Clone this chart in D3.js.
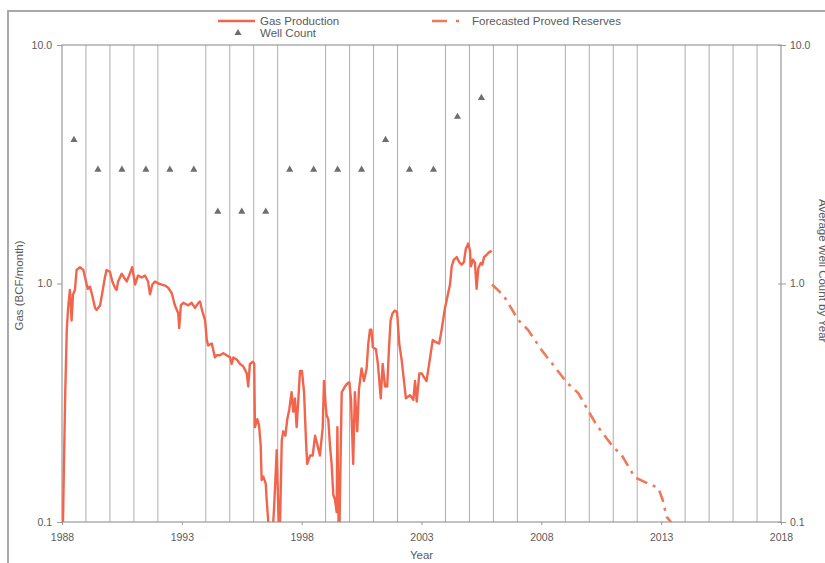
<!DOCTYPE html>
<html>
<head>
<meta charset="utf-8">
<script src="https://cdn.jsdelivr.net/npm/d3@7"></script>
<style>
  html, body { margin: 0; padding: 0; background: #fff; }
  svg { display: block; font-family: "Liberation Sans", Arial, sans-serif; }
</style>
</head>
<body>
<svg id="chart" width="825" height="563"></svg>
<script>
// Monthly gas production (BCF/month), decimal year
const prodYears = [
  1988.04,1988.13,1988.20,1988.25,1988.33,1988.40,1988.46,1988.54,1988.61,1988.75,1988.89,
  1989.03,1989.08,1989.17,1989.24,1989.38,1989.45,1989.59,1989.67,1989.79,1989.86,
  1990.00,1990.10,1990.21,1990.28,1990.34,1990.49,1990.59,1990.70,1990.80,1990.93,
  1991.05,1991.17,1991.33,1991.46,1991.59,1991.67,1991.77,1991.88,
  1992.02,1992.16,1992.30,1992.43,1992.58,1992.71,1992.85,1992.89,1992.96,
  1993.06,1993.27,1993.41,1993.55,1993.69,1993.76,1993.84,1993.97,
  1994.04,1994.10,1994.25,1994.38,1994.45,1994.59,1994.73,1994.87,
  1995.01,1995.08,1995.15,1995.29,1995.43,1995.56,1995.71,1995.77,1995.84,1995.96,
  1996.02,1996.05,1996.15,1996.22,1996.29,1996.33,1996.40,1996.50,1996.54,1996.61,1996.76,1996.85,1996.96,
  1997.03,1997.09,1997.17,1997.23,1997.32,1997.40,1997.48,1997.58,1997.65,1997.72,1997.79,1997.86,1997.93,
  1998.01,1998.10,1998.18,1998.23,1998.35,1998.46,1998.56,1998.66,1998.76,1998.88,1998.93,1998.99,
  1999.04,1999.11,1999.18,1999.25,1999.32,1999.39,1999.46,1999.49,1999.54,1999.57,1999.67,1999.74,1999.81,1999.89,1999.99,
  2000.06,2000.15,2000.22,2000.32,2000.39,2000.50,2000.60,2000.71,2000.78,2000.85,2000.91,2000.97,
  2001.10,2001.18,2001.30,2001.38,2001.48,2001.57,2001.64,2001.71,2001.79,2001.89,2001.98,
  2002.07,2002.17,2002.27,2002.35,2002.52,2002.66,2002.73,2002.80,2002.91,
  2003.01,2003.07,2003.21,2003.32,2003.47,2003.56,2003.74,2003.84,2003.98,
  2004.12,2004.19,2004.26,2004.35,2004.47,2004.57,2004.68,2004.77,2004.85,2004.95,
  2005.02,2005.06,2005.15,2005.23,2005.30,2005.37,2005.47,2005.54,2005.61,2005.72,2005.81,2005.93
];
const prodGas = [
  0.10,0.33,0.64,0.78,0.94,0.70,0.90,0.94,1.14,1.17,1.14,
  0.99,0.95,0.97,0.91,0.79,0.775,0.81,0.90,1.06,1.14,
  1.12,1.02,0.96,0.94,1.02,1.10,1.06,1.02,1.08,1.17,
  0.99,1.08,1.06,1.08,1.02,0.90,0.99,1.02,
  1.00,0.99,0.98,0.96,0.91,0.81,0.75,0.65,0.81,
  0.83,0.81,0.83,0.79,0.83,0.84,0.775,0.70,
  0.58,0.55,0.56,0.49,0.50,0.50,0.51,0.50,
  0.49,0.46,0.49,0.48,0.46,0.45,0.42,0.37,0.46,0.47,
  0.46,0.25,0.27,0.255,0.21,0.15,0.155,0.145,0.124,0.099,0.08,0.115,0.20,
  0.11,0.09,0.22,0.24,0.23,0.27,0.295,0.35,0.29,0.33,0.25,0.325,0.43,
  0.43,0.35,0.22,0.175,0.19,0.19,0.23,0.21,0.19,0.25,0.39,0.32,
  0.28,0.27,0.21,0.175,0.13,0.124,0.11,0.25,0.10,0.085,0.35,0.36,0.37,0.38,0.385,
  0.325,0.175,0.35,0.24,0.36,0.44,0.39,0.44,0.56,0.64,0.64,0.54,
  0.53,0.46,0.33,0.46,0.37,0.37,0.526,0.70,0.75,0.77,0.76,
  0.56,0.48,0.39,0.33,0.34,0.325,0.39,0.32,0.42,
  0.42,0.41,0.39,0.46,0.58,0.57,0.56,0.64,0.79,
  0.92,0.99,1.18,1.26,1.29,1.23,1.20,1.23,1.40,1.47,
  1.38,1.18,1.26,1.22,0.95,1.16,1.22,1.20,1.29,1.32,1.35,1.37
];

// Forecast of proved reserves production
const fcYears = [2005.94,2006.41,2007.04,2007.45,2008.01,2008.43,2009.08,2009.54,2010.06,2010.31,2011.00,2011.35,2011.90,2012.39,2012.88,2013.06,2013.23,2013.48];
const fcGas   = [0.99,0.895,0.703,0.638,0.526,0.464,0.383,0.347,0.281,0.255,0.206,0.191,0.154,0.146,0.139,0.124,0.105,0.098];

// Average well count by year
const wellYears = [1988,1989,1990,1991,1992,1993,1994,1995,1996,1997,1998,1999,2000,2001,2002,2003,2004,2005];
const wellCount = [4,3,3,3,3,3,2,2,2,3,3,3,3,4,3,3,5,6];

const xTickYears = [1988,1993,1998,2003,2008,2013,2018];
const yTickValues = [0.1,1,10];
const yTickLabels = ["0.1","1.0","10.0"];

const svg = d3.select("#chart");
const margin = {left: 62, right: 781, top: 45, bottom: 522};
const x = d3.scaleLinear().domain([1988, 2018]).range([margin.left, margin.right]);
const y = d3.scaleLog().domain([0.1, 10]).range([margin.bottom, margin.top]);
const y2 = d3.scaleLog().domain([0.1, 10]).range([margin.bottom, margin.top]);

const textCol = "#5a5a5a";
const axisCol = "#9a9a9a";
const lineCol = "#f2654d";
const fcCol = "#f07a58";

// outer frame
svg.append("path")
  .attr("d", "M8,563 L8,11 L825,11")
  .attr("fill", "none").attr("stroke", "#a9a9a9").attr("stroke-width", 2);

// yearly vertical gridlines (skipping labelled years)
const gridYears = d3.range(1989, 2018).filter(v => (v - 1988) % 5 !== 0);
svg.append("g").selectAll("line").data(gridYears).join("line")
  .attr("x1", d => x(d)).attr("x2", d => x(d))
  .attr("y1", margin.top).attr("y2", margin.bottom)
  .attr("stroke", "#adadad").attr("stroke-width", 1);

// plot frame
svg.append("rect")
  .attr("x", margin.left).attr("y", margin.top)
  .attr("width", margin.right - margin.left).attr("height", margin.bottom - margin.top)
  .attr("fill", "none").attr("stroke", axisCol).attr("stroke-width", 1.2);

// axes
const xAxis = d3.axisBottom(x).tickValues(xTickYears).tickSize(3).tickFormat(d3.format("d"));
const gx = svg.append("g").attr("transform", `translate(0,${margin.bottom})`).call(xAxis);
gx.select(".domain").remove();
gx.selectAll("line").attr("stroke", axisCol);
gx.selectAll("text").attr("fill", textCol).attr("font-size", 10.5).attr("dy", "1.2em")
  .attr("font-family", "Liberation Sans, Arial, sans-serif");

const yAxis = d3.axisLeft(y).tickValues(yTickValues).tickSize(5).tickPadding(5)
  .tickFormat((d, i) => yTickLabels[i]);
const gy = svg.append("g").attr("transform", `translate(${margin.left},0)`).call(yAxis);
gy.select(".domain").remove();
gy.selectAll("line").attr("stroke", axisCol);
gy.selectAll("text").attr("fill", textCol).attr("font-size", 10.5)
  .attr("font-family", "Liberation Sans, Arial, sans-serif");

const yAxisR = d3.axisRight(y2).tickValues(yTickValues).tickSize(5).tickPadding(4)
  .tickFormat((d, i) => yTickLabels[i]);
const gy2 = svg.append("g").attr("transform", `translate(${margin.right},0)`).call(yAxisR);
gy2.select(".domain").remove();
gy2.selectAll("line").attr("stroke", axisCol).attr("x1", -3);
gy2.selectAll("text").attr("fill", textCol).attr("font-size", 10.5)
  .attr("font-family", "Liberation Sans, Arial, sans-serif");

// axis titles
svg.append("text").attr("transform", `translate(23,${(margin.top + margin.bottom) / 2 + 2}) rotate(-90)`)
  .attr("text-anchor", "middle").attr("fill", textCol).attr("font-size", 11.5)
  .text("Gas (BCF/month)");
svg.append("text").attr("transform", "translate(819,199) rotate(90)")
  .attr("text-anchor", "start").attr("fill", textCol).attr("font-size", 11.5)
  .text("Average Well Count by Year");
svg.append("text").attr("x", (margin.left + margin.right) / 2).attr("y", 559)
  .attr("text-anchor", "middle").attr("fill", textCol).attr("font-size", 11.5)
  .text("Year");

// clip for series
svg.append("defs").append("clipPath").attr("id", "plotClip")
  .append("rect").attr("x", margin.left).attr("y", margin.top)
  .attr("width", margin.right - margin.left).attr("height", margin.bottom - margin.top);

const plot = svg.append("g").attr("clip-path", "url(#plotClip)");

const line = d3.line().x(d => x(d[0])).y(d => y(d[1]));

plot.append("path")
  .datum(d3.zip(prodYears, prodGas))
  .attr("d", line)
  .attr("fill", "none").attr("stroke", lineCol).attr("stroke-width", 2.4)
  .attr("stroke-linejoin", "round");

plot.append("path")
  .datum(d3.zip(fcYears, fcGas))
  .attr("d", line)
  .attr("fill", "none").attr("stroke", fcCol).attr("stroke-width", 2.6)
  .attr("stroke-dasharray", "12,6,3,6");

// well count markers (mid-year)
const tri = d3.symbol().type(d3.symbolTriangle).size(22);
svg.append("g").selectAll("path").data(d3.zip(wellYears, wellCount)).join("path")
  .attr("d", tri)
  .attr("transform", d => `translate(${x(d[0] + 0.5)},${y2(d[1])})`)
  .attr("fill", "#6e6e6e");

// legend
const lg = svg.append("g").attr("font-size", 11.5).attr("fill", textCol);
lg.append("line").attr("x1", 218).attr("x2", 255).attr("y1", 21).attr("y2", 21)
  .attr("stroke", lineCol).attr("stroke-width", 2.4);
lg.append("text").attr("x", 260).attr("y", 25).text("Gas Production");
lg.append("path").attr("d", tri).attr("transform", "translate(238,33)").attr("fill", "#6e6e6e");
lg.append("text").attr("x", 260).attr("y", 37).text("Well Count");
lg.append("line").attr("x1", 432).attr("x2", 460).attr("y1", 21).attr("y2", 21)
  .attr("stroke", fcCol).attr("stroke-width", 2.6).attr("stroke-dasharray", "15,9,3,6");
lg.append("text").attr("x", 472).attr("y", 25).text("Forecasted Proved Reserves");
</script>
</body>
</html>
